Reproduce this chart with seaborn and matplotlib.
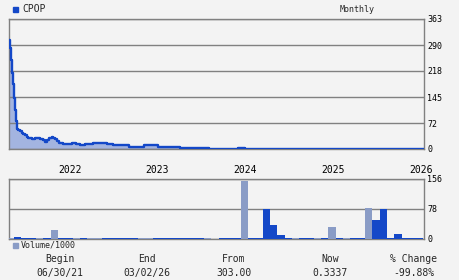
import numpy as np
import pandas as pd
import matplotlib
matplotlib.use("Agg")
import matplotlib.pyplot as plt
from matplotlib.patches import Rectangle
import seaborn as sns

# ---- data (time in months since Jan 2022) ----
price_t = [-6.70, -6.57, -6.43, -6.29, -6.16, -6.02, -5.88, -5.75, -5.61, -5.43,
           -5.20, -4.97, -4.75, -4.51, -4.28, -4.06, -3.60, -3.15, -2.69, -2.46,
           -2.00, -1.78, -1.55, -1.23, -0.86, -0.64, -0.41, -0.18, 0.14, 0.73,
           1.87, 2.46, 3.01, 3.69, 4.79, 6.70, 7.52, 9.71, 11.76, 13.68,
           16.69, 20.66, 24.62, 25.58, 49.50, 50.07]
price_v = [303, 283, 248, 213, 181, 143, 109, 78, 55, 53,
           50, 45, 41, 38, 33, 31, 29, 31, 31, 27,
           24, 20, 24, 30, 33, 31, 27, 22, 16, 13,
           16, 13, 10, 13, 16, 13, 10, 6.4, 10, 6.4,
           3.6, 0.8, 3.6, 0.8, 0.6, 0.3337]

vol_month = list(range(-7, 50))
vol_k = [3, 6, 2, 3, 3, 3, 23, 3, 3, 3,
         3, 3, 3, 3, 3, 3, 3, 3, 3, 3,
         3, 3, 3, 3, 3, 3, 3, 3, 1, 3,
         3, 3, 150, 2, 3, 77, 37, 11, 3, 3,
         3, 3, 3, 3, 32, 2, 3, 3, 3, 80,
         50, 77, 3, 14, 3, 3, 3]
vol_up = [0, 1, 1, 1, 0, 1, 0, 1, 1, 0,
          1, 0, 0, 1, 1, 1, 1, 1, 0, 0,
          1, 1, 1, 1, 1, 1, 1, 0, 1, 1,
          1, 1, 0, 1, 1, 1, 1, 1, 1, 0,
          1, 1, 0, 1, 0, 1, 0, 1, 1, 0,
          1, 1, 1, 1, 1, 1, 1]

years = ["2022", "2023", "2024", "2025", "2026"]
year_month = [0, 12, 24, 36, 48]
price_ticks = [0, 72, 145, 218, 290, 363]
vol_ticks = [0, 78, 156]
ticker = "CPOP"
footer_heads = ["Begin", "End", "From", "Now", "% Change"]
footer_vals = ["06/30/21", "03/02/26", "303.00", "0.3337", "-99.88%"]

# ---- style ----
BG = "#f3f3f3"
LINE = "#1448c8"
FILL = "#a3b4e0"
GRAYBAR = "#8a9cc6"
GRID = "#808080"
sns.set_theme(style="white")
plt.rcParams["font.family"] = ["DejaVu Sans Mono", "DejaVu Sans"]

fig = plt.figure(figsize=(4.6, 2.8), dpi=100, facecolor=BG)
W, H = 460.0, 280.0
x0, x1 = 9, 424
ax1 = fig.add_axes([x0 / W, 1 - 149 / H, (x1 - x0) / W, 130 / H])
ax2 = fig.add_axes([x0 / W, 1 - 239 / H, (x1 - x0) / W, 60 / H])
xlim = (-6.70, 50.07)

for ax in (ax1, ax2):
    ax.set_facecolor(BG)
    for s in ax.spines.values():
        s.set_color(GRID)
        s.set_linewidth(1.0)
    ax.set_xlim(*xlim)
    ax.yaxis.tick_right()
    ax.tick_params(axis="both", length=0, labelsize=6, pad=2.5, colors="black")

# price panel
pdf = pd.DataFrame({"t": price_t, "p": price_v})
ax1.fill_between(pdf["t"], pdf["p"], step="post", color=FILL, linewidth=0, zorder=1)
sns.lineplot(data=pdf, x="t", y="p", drawstyle="steps-post", color=LINE,
             linewidth=1.7, ax=ax1, zorder=3, estimator=None)
ax1.set_ylim(0, 363)
ax1.set_yticks(price_ticks)
ax1.set_yticklabels([str(v) for v in price_ticks])
ax1.set_xticks([])
ax1.grid(axis="y", color=GRID, linewidth=1.0, zorder=2)
ax1.set_axisbelow(False)
ax1.set_xlabel("")
ax1.set_ylabel("")

# volume panel
vdf = pd.DataFrame({"m": [m + 0.5 for m in vol_month], "v": vol_k,
                    "up": ["up" if u else "down" for u in vol_up]})
sns.barplot(data=vdf, x="m", y="v", hue="up", native_scale=True, dodge=False,
            palette={"up": LINE, "down": GRAYBAR}, width=1.0, linewidth=0,
            saturation=1, errorbar=None, legend=False, ax=ax2, zorder=3)
ax2.set_xlim(*xlim)
ax2.set_ylim(0, 156)
ax2.set_yticks(vol_ticks)
ax2.set_yticklabels([str(v) for v in vol_ticks])
ax2.grid(axis="y", color=GRID, linewidth=1.0, zorder=1)
ax2.set_axisbelow(True)
ax2.set_xticks(year_month)
ax2.set_xticklabels(years, ha="left", fontsize=7)
ax2.tick_params(axis="x", labeltop=True, labelbottom=False, pad=3)
ax2.set_xlabel("")
ax2.set_ylabel("")

# legends / titles
fig.patches.append(Rectangle((13 / W, 1 - 12 / H), 4.5 / W, 4.5 / H,
                             transform=fig.transFigure, color=LINE, figure=fig))
fig.text(22 / W, 1 - 9.5 / H, ticker, fontsize=7, va="center", ha="left")
fig.text(357 / W, 1 - 9.5 / H, "Monthly", fontsize=6, va="center", ha="center")
fig.patches.append(Rectangle((13 / W, 1 - 247.5 / H), 4.5 / W, 4.5 / H,
                             transform=fig.transFigure, color=GRAYBAR, figure=fig))
fig.text(21 / W, 1 - 245.5 / H, "Volume/1000", fontsize=6, va="center", ha="left")

# footer
head_x = [60, 147, 234, 330, 414]
for hx, hd, vl in zip(head_x, footer_heads, footer_vals):
    fig.text(hx / W, 1 - 259 / H, hd, fontsize=7, va="center", ha="center")
    fig.text(hx / W, 1 - 273 / H, vl, fontsize=7, va="center", ha="center")

fig.savefig("out.png", dpi=100, facecolor=BG)
